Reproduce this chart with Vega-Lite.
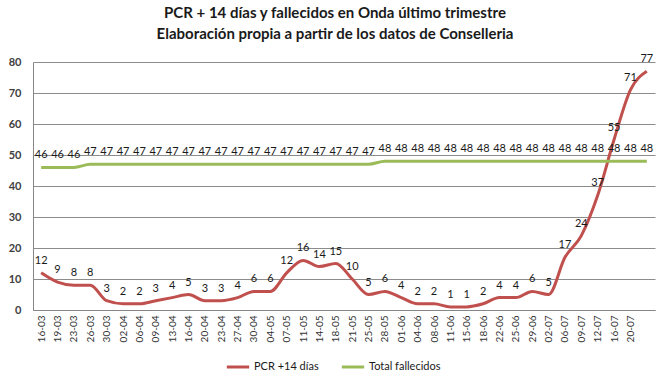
{
  "$schema": "https://vega.github.io/schema/vega-lite/v6.json",
  "width": 622,
  "height": 248,
  "autosize": {"type": "none"},
  "padding": {"left": 33, "top": 62, "right": 15, "bottom": 67},
  "background": "white",
  "title": {
    "text": ["PCR + 14 días y fallecidos en Onda último trimestre", "Elaboración propia a partir de los datos de Conselleria"],
    "font": "Lato",
    "fontSize": 15,
    "fontWeight": "bold",
    "color": "#1a1a1a",
    "lineHeight": 21,
    "anchor": "middle",
    "dx": -9,
    "offset": 11
  },
  "data": {
    "values": [
      {"fecha": "16-03", "PCR +14 días": 12, "Total fallecidos": 46},
      {"fecha": "19-03", "PCR +14 días": 9, "Total fallecidos": 46},
      {"fecha": "23-03", "PCR +14 días": 8, "Total fallecidos": 46},
      {"fecha": "26-03", "PCR +14 días": 8, "Total fallecidos": 47},
      {"fecha": "30-03", "PCR +14 días": 3, "Total fallecidos": 47},
      {"fecha": "02-04", "PCR +14 días": 2, "Total fallecidos": 47},
      {"fecha": "06-04", "PCR +14 días": 2, "Total fallecidos": 47},
      {"fecha": "09-04", "PCR +14 días": 3, "Total fallecidos": 47},
      {"fecha": "13-04", "PCR +14 días": 4, "Total fallecidos": 47},
      {"fecha": "16-04", "PCR +14 días": 5, "Total fallecidos": 47},
      {"fecha": "20-04", "PCR +14 días": 3, "Total fallecidos": 47},
      {"fecha": "23-04", "PCR +14 días": 3, "Total fallecidos": 47},
      {"fecha": "27-04", "PCR +14 días": 4, "Total fallecidos": 47},
      {"fecha": "30-04", "PCR +14 días": 6, "Total fallecidos": 47},
      {"fecha": "04-05", "PCR +14 días": 6, "Total fallecidos": 47},
      {"fecha": "07-05", "PCR +14 días": 12, "Total fallecidos": 47},
      {"fecha": "11-05", "PCR +14 días": 16, "Total fallecidos": 47},
      {"fecha": "14-05", "PCR +14 días": 14, "Total fallecidos": 47},
      {"fecha": "18-05", "PCR +14 días": 15, "Total fallecidos": 47},
      {"fecha": "21-05", "PCR +14 días": 10, "Total fallecidos": 47},
      {"fecha": "25-05", "PCR +14 días": 5, "Total fallecidos": 47},
      {"fecha": "28-05", "PCR +14 días": 6, "Total fallecidos": 48},
      {"fecha": "01-06", "PCR +14 días": 4, "Total fallecidos": 48},
      {"fecha": "04-06", "PCR +14 días": 2, "Total fallecidos": 48},
      {"fecha": "08-06", "PCR +14 días": 2, "Total fallecidos": 48},
      {"fecha": "11-06", "PCR +14 días": 1, "Total fallecidos": 48},
      {"fecha": "15-06", "PCR +14 días": 1, "Total fallecidos": 48},
      {"fecha": "18-06", "PCR +14 días": 2, "Total fallecidos": 48},
      {"fecha": "22-06", "PCR +14 días": 4, "Total fallecidos": 48},
      {"fecha": "25-06", "PCR +14 días": 4, "Total fallecidos": 48},
      {"fecha": "29-06", "PCR +14 días": 6, "Total fallecidos": 48},
      {"fecha": "02-07", "PCR +14 días": 5, "Total fallecidos": 48},
      {"fecha": "06-07", "PCR +14 días": 17, "Total fallecidos": 48},
      {"fecha": "09-07", "PCR +14 días": 24, "Total fallecidos": 48},
      {"fecha": "12-07", "PCR +14 días": 37, "Total fallecidos": 48},
      {"fecha": "16-07", "PCR +14 días": 55, "Total fallecidos": 48},
      {"fecha": "20-07", "PCR +14 días": 71, "Total fallecidos": 48},
      {"fecha": "23-07", "PCR +14 días": 77, "Total fallecidos": 48}
    ]
  },
  "transform": [
    {"fold": ["PCR +14 días", "Total fallecidos"], "as": ["serie", "valor"]}
  ],
  "encoding": {
    "x": {
      "field": "fecha",
      "type": "ordinal",
      "sort": null,
      "scale": {"type": "point", "padding": 0.5},
      "axis": {
        "title": null,
        "labelAngle": -90,
        "labelFont": "Lato",
        "labelFontSize": 10,
        "labelColor": "#333333",
        "labelPadding": 5,
        "ticks": false,
        "domainColor": "#868686",
        "grid": false,
        "labelExpr": "datum.label == '23-07' ? '' : datum.label"
      }
    },
    "y": {
      "field": "valor",
      "type": "quantitative",
      "scale": {"domain": [0, 80], "nice": false},
      "axis": {
        "title": null,
        "values": [0, 10, 20, 30, 40, 50, 60, 70, 80],
        "labelFont": "Lato",
        "labelFontSize": 11,
        "labelFontWeight": "bold",
        "labelColor": "#404040",
        "labelPadding": 12,
        "ticks": false,
        "domainColor": "#868686",
        "gridColor": "#8c8c8c",
        "gridWidth": 1
      }
    }
  },
  "layer": [
    {
      "mark": {"type": "line", "strokeWidth": 3, "interpolate": "monotone"},
      "encoding": {
        "color": {
          "field": "serie",
          "type": "nominal",
          "scale": {"domain": ["PCR +14 días", "Total fallecidos"], "range": ["#C0504D", "#9BBB59"]},
          "legend": {
            "title": null,
            "orient": "none",
            "direction": "horizontal",
            "legendX": 192,
            "legendY": 292,
            "symbolType": "stroke",
            "symbolStrokeWidth": 3,
            "symbolSize": 500,
            "labelFont": "Lato",
            "labelFontSize": 11,
            "labelColor": "#1a1a1a",
            "columnPadding": 16,
            "labelOffset": 3
          }
        }
      }
    },
    {
      "mark": {"type": "text", "baseline": "bottom", "dy": -7, "font": "Lato", "fontSize": 11, "color": "#1a1a1a"},
      "encoding": {
        "text": {"field": "valor", "type": "quantitative"}
      }
    }
  ],
  "config": {
    "view": {"stroke": null}
  }
}
